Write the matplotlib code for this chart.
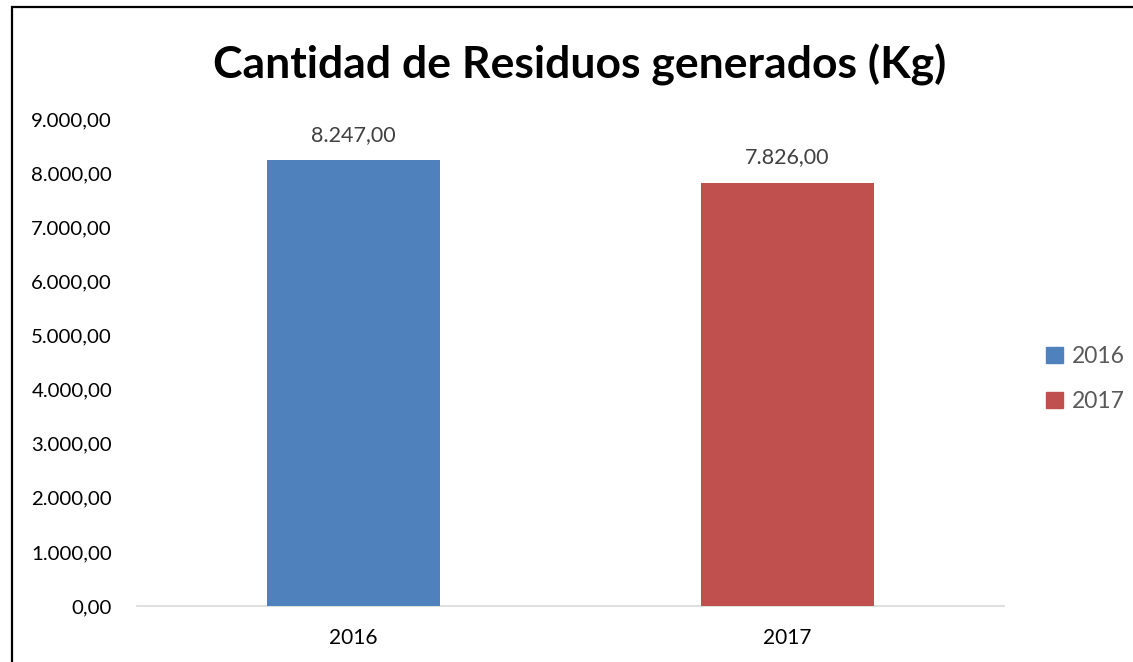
import matplotlib.pyplot as plt
from matplotlib.patches import Rectangle, Patch

years = ["2016", "2017"]
values = [8247.00, 7826.00]
colors = ["#4F81BD", "#C0504D"]
yticks = [0, 1000, 2000, 3000, 4000, 5000, 6000, 7000, 8000, 9000]


def fmt_es(v):
    s = f"{v:,.2f}"
    return s.replace(",", "X").replace(".", ",").replace("X", ".")


plt.rcParams['font.family'] = ['Lato', 'DejaVu Sans']

fig = plt.figure(figsize=(11.33, 6.62), dpi=100)
ax = fig.add_axes([137 / 1133, 1 - 606 / 662, 867 / 1133, 487 / 662])

x = range(len(years))
ax.bar(x, values, width=0.4, color=colors, zorder=3)
for xi, v in zip(x, values):
    ax.text(xi, v + 280, fmt_es(v), ha="center", va="bottom", fontsize=15.5, color="#404040")

ax.set_xlim(-0.5, 1.5)
ax.set_ylim(0, 9000)
ax.set_yticks(yticks)
ax.set_yticklabels([fmt_es(t) for t in yticks], fontsize=14.7, color="#000000")
ax.set_xticks(list(x))
ax.set_xticklabels(years, fontsize=15, color="#000000")
ax.tick_params(axis="x", length=0, pad=16)
ax.tick_params(axis="y", length=0, pad=18)
for side in ["top", "right", "left"]:
    ax.spines[side].set_visible(False)
ax.spines["bottom"].set_color("#D9D9D9")
ax.spines["bottom"].set_linewidth(1.2)

fig.text(580 / 1133, 1 - 65 / 662, "Cantidad de Residuos generados (Kg)",
         ha="center", va="center", fontsize=32, fontweight="bold", color="#000000")

handles = [Patch(color=c) for c in colors]
fig.legend(handles, years, loc="center left", bbox_to_anchor=(1046 / 1133, 1 - 379 / 662),
           frameon=False, fontsize=16.5, labelcolor="#595959", handlelength=0.75,
           handleheight=0.75, handletextpad=0.4, labelspacing=1.05,
           borderpad=0, borderaxespad=0)

fig.patches.append(Rectangle((12 / 1133, -0.1), 1.2, 1 - 7 / 662 + 0.1,
                             transform=fig.transFigure, fill=False,
                             edgecolor="black", linewidth=1.6))

fig.savefig("out.png", dpi=100)
